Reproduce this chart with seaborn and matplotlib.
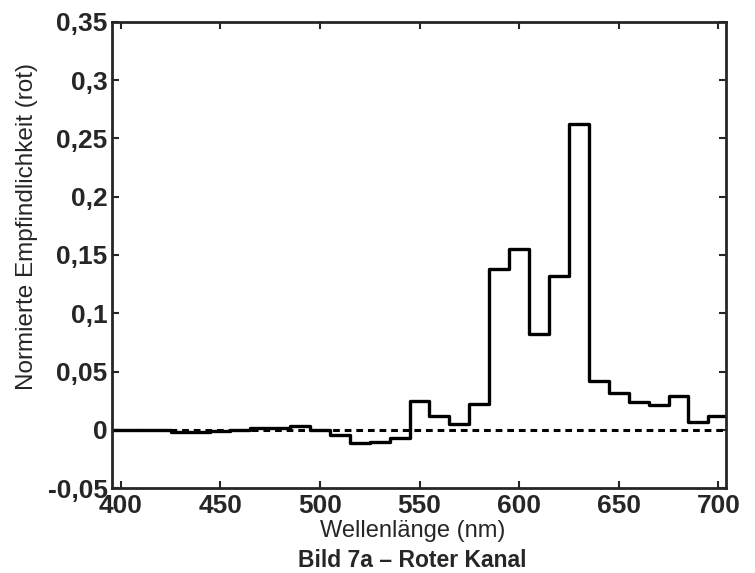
import matplotlib
matplotlib.use("Agg")
import matplotlib.pyplot as plt
import matplotlib.ticker as mticker
import numpy as np
import pandas as pd
import seaborn as sns

# Bin centres (nm) and normalised red-channel sensitivity
wavelength = np.arange(400, 701, 10)
sensitivity = [0.0, 0.0, 0.0, -0.002, -0.002, -0.001, 0.0, 0.0015, 0.0015, 0.0035,
               0.0, -0.004, -0.011, -0.010, -0.007, 0.025, 0.012, 0.005, 0.022, 0.138,
               0.155, 0.082, 0.132, 0.262, 0.042, 0.032, 0.024, 0.021, 0.029, 0.007,
               0.012]
bin_width = 10

xticks = [400, 450, 500, 550, 600, 650, 700]
yticks = [-0.05, 0, 0.05, 0.1, 0.15, 0.2, 0.25, 0.3, 0.35]

sns.set_style("ticks")
plt.rcParams['font.family'] = ['Liberation Sans', 'DejaVu Sans']

# bin edges so every bin is drawn as a full step
edges = list(wavelength - bin_width / 2) + [wavelength[-1] + bin_width / 2]
levels = list(sensitivity) + [sensitivity[-1]]
df = pd.DataFrame({"x": edges, "y": levels})

fig = plt.figure(figsize=(7.55, 5.73), dpi=100)
ax = fig.add_axes([0.148, 0.148, 0.814, 0.814])

sns.lineplot(data=df, x="x", y="y", ax=ax, color="black", linewidth=2.4,
             drawstyle="steps-post", sort=False)
ax.axhline(0, color="black", linewidth=2.2, linestyle=(0, (2.2, 1.6)), zorder=1)

ax.set_xlim(395.5, 704)
ax.set_ylim(-0.05, 0.35)
ax.set_xticks(xticks)
ax.set_yticks(yticks)
ax.yaxis.set_major_formatter(
    mticker.FuncFormatter(lambda v, p: "0" if abs(v) < 1e-9 else f"{v:g}".replace(".", ",")))

ax.tick_params(direction="in", length=5, width=1.5, top=True, right=True,
               labelsize=19)
ax.tick_params(axis="x", pad=4)
ax.tick_params(axis="y", pad=3)
for lab in ax.get_xticklabels() + ax.get_yticklabels():
    lab.set_fontweight("bold")
for sp in ax.spines.values():
    sp.set_linewidth(2)
    sp.set_visible(True)

ax.set_xlabel("Wellenlänge (nm)", fontsize=17)
ax.set_ylabel("Normierte Empfindlichkeit (rot)", fontsize=17.5)
ax.xaxis.set_label_coords(0.489, -0.069)
ax.yaxis.set_label_coords(-0.12, 0.56)
fig.text(0.546, 0.022, "Bild 7a – Roter Kanal", fontsize=16.5, fontweight="bold",
         ha="center", va="center")

plt.savefig("out.png", dpi=100)
